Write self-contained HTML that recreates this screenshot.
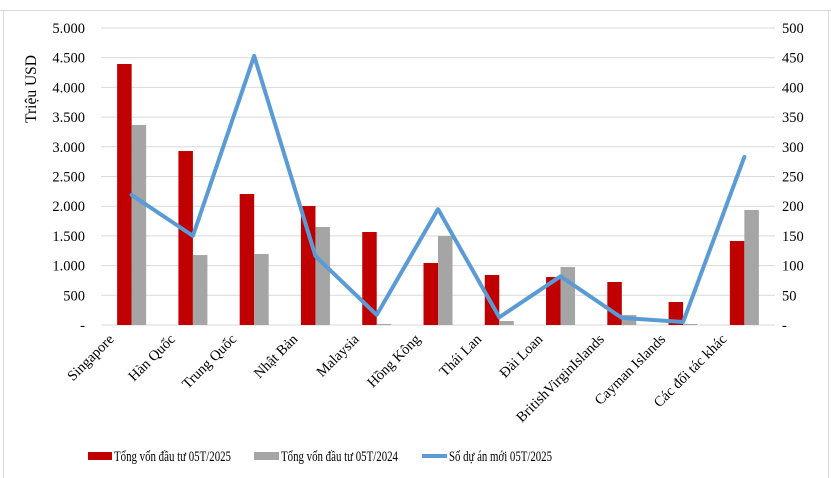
<!DOCTYPE html>
<html><head><meta charset="utf-8"><style>
body{margin:0;background:#fff;}
svg{display:block;font-family:"Liberation Serif",serif;}
</style></head><body>
<svg id="chart" width="831" height="478" viewBox="0 0 831 478" xmlns="http://www.w3.org/2000/svg">
<rect x="0" y="0" width="831" height="478" fill="#fff"/>
<g id="sheet" stroke="#d9d9d9" stroke-width="1">
<line x1="0" y1="10.5" x2="831" y2="10.5"/>
<line x1="3.5" y1="10" x2="3.5" y2="478"/>
<line x1="828.5" y1="10" x2="828.5" y2="478"/>
</g>
<g id="grid"></g>
<g id="bars"></g>
<g id="line"></g>
<g id="yl" font-size="14.5" fill="#000" text-anchor="end"></g>
<g id="yr" font-size="14.5" fill="#000" text-anchor="start"></g>
<g id="xl" font-size="14.5" fill="#000" text-anchor="end"></g>
<text transform="translate(36,89) rotate(-90)" text-anchor="middle" font-size="15.5">Triệu USD</text>
<g font-size="15">
<g><rect x="88" y="452" width="24" height="8" fill="#c00000"/><text x="114" y="461" textLength="117" lengthAdjust="spacingAndGlyphs">Tổng vốn đầu tư 05T/2025</text></g>
<g><rect x="254" y="452" width="25" height="8" fill="#a5a5a5"/><text x="281" y="461" textLength="117" lengthAdjust="spacingAndGlyphs">Tổng vốn đầu tư 05T/2024</text></g>
<g><line x1="422" y1="456" x2="447" y2="456" stroke="#5b9bd5" stroke-width="4"/><text x="449" y="461" textLength="103" lengthAdjust="spacingAndGlyphs">Số dự án mới 05T/2025</text></g>
</g>
</svg>
<script>
const categories=["Singapore","Hàn Quốc","Trung Quốc","Nhật Bản","Malaysia","Hồng Kông","Thái Lan","Đài Loan","BritishVirginIslands","Cayman Islands","Các đối tác khác"];
const capital2025=[4394,2929,2205,2003,1566,1044,842,808,724,387,1414];
const capital2024=[3367,1178,1195,1650,17,1498,67,976,168,17,1936];
const projects2025=[219,150,453,116,17,195,13,82,12,5,283];
const leftTicks=["-","500","1.000","1.500","2.000","2.500","3.000","3.500","4.000","4.500","5.000"];
const rightTicks=["-","50","100","150","200","250","300","350","400","450","500"];
const NS="http://www.w3.org/2000/svg";
const X0=101,X1=775,Y0=325,Y1=28;
const band=(X1-X0)/categories.length;
const xc=i=>X0+band*(i+0.5);
const yL=v=>Y0-(v/5000)*(Y0-Y1);
const yR=v=>Y0-(v/500)*(Y0-Y1);
function mk(tag,attrs,parent){const e=document.createElementNS(NS,tag);for(const k in attrs)e.setAttribute(k,attrs[k]);parent.appendChild(e);return e;}
const grid=document.getElementById('grid');
leftTicks.forEach((t,i)=>{
 const y=Y0-i*(Y0-Y1)/10;
 const l=mk('line',{x1:X0,x2:X1,y1:y,y2:y,stroke:'#d9d9d9','stroke-width':1},grid);
 
 
 const a=mk('text',{x:85,y:y+5},document.getElementById('yl'));a.textContent=t;
 
 
 const b=mk('text',{x:782,y:y+5},document.getElementById('yr'));b.textContent=rightTicks[i];
 
 
});
const bars=document.getElementById('bars');
const bw=14.5;
categories.forEach((c,i)=>{
 const r=mk('rect',{x:xc(i)-bw,y:yL(capital2025[i]),width:bw,height:Y0-yL(capital2025[i]),fill:'#c00000'},bars);
 
 
 const g=mk('rect',{x:xc(i),y:yL(capital2024[i]),width:bw,height:Y0-yL(capital2024[i]),fill:'#a5a5a5'},bars);
 
 
 const t=mk('text',{transform:`translate(${xc(i)-17},${340}) rotate(-45)`},document.getElementById('xl'));t.textContent=c;
 
 
});
const pts=projects2025.map((v,i)=>xc(i)+','+yR(v)).join(' ');
const pl=mk('polyline',{points:pts,fill:'none',stroke:'#5b9bd5','stroke-width':4,'stroke-linejoin':'round','stroke-linecap':'round'},document.getElementById('line'));


</script>
</body></html>
